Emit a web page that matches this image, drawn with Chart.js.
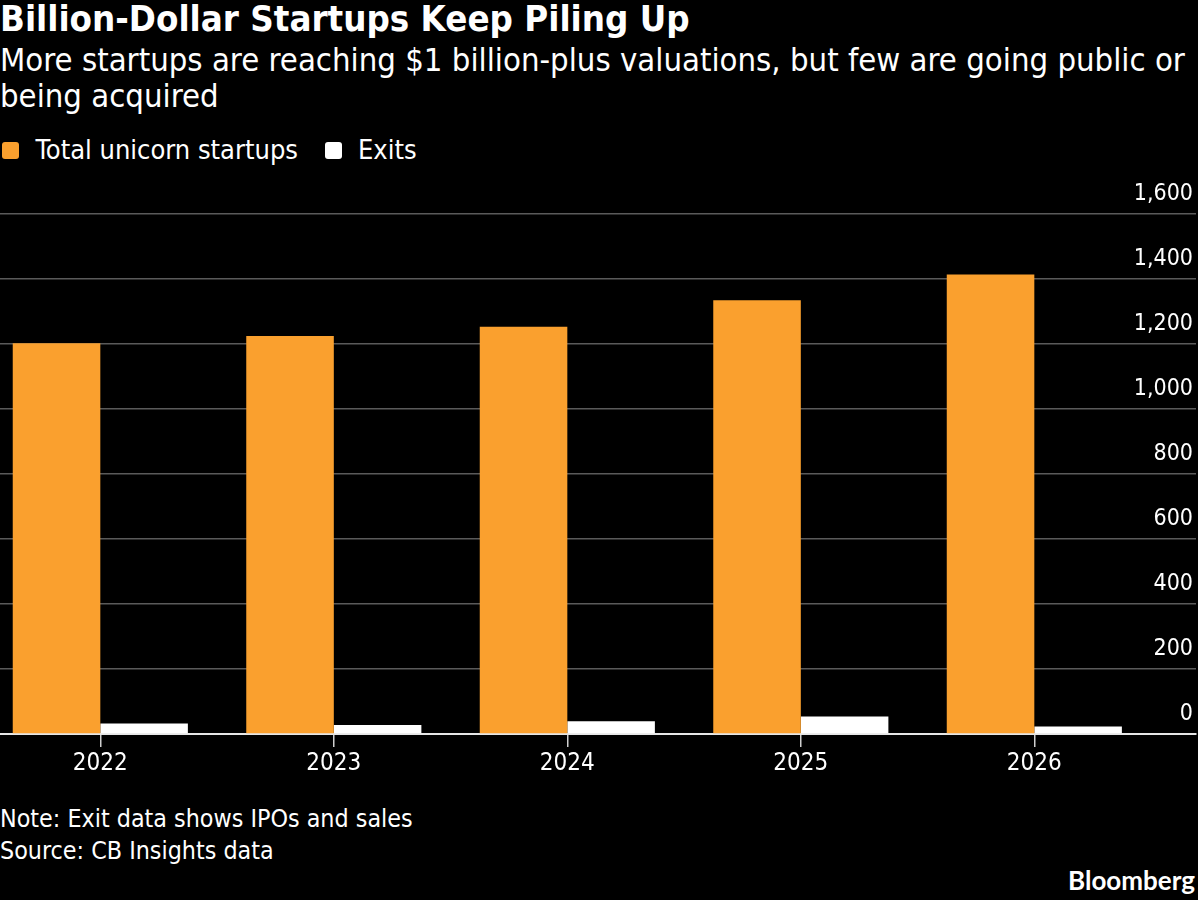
<!DOCTYPE html>
<html>
<head>
<meta charset="utf-8">
<script src="https://cdn.jsdelivr.net/npm/chart.js@4.4.1/dist/chart.umd.min.js"></script>
<style>
  html, body { margin: 0; padding: 0; background: #000; }
  body {
    width: 1198px; height: 900px; position: relative; overflow: hidden;
    color: #fff; font-family: "DejaVu Sans Condensed", "Liberation Sans Narrow", sans-serif;
  }
  .title { position: absolute; left: 0; top: 1px; font-size: 36.3px; font-weight: bold; line-height: 36px; white-space: nowrap; }
  .subtitle { position: absolute; left: 0; top: 43px; font-size: 32.6px; line-height: 35.5px; white-space: nowrap; }
  .swatch { position: absolute; top: 142px; width: 17px; height: 17px; border-radius: 3px; }
  .legend-text { position: absolute; top: 136px; font-size: 27px; line-height: 28px; white-space: nowrap; }
  #wrap { position: absolute; left: 0; top: 180px; width: 1198px; height: 610px; }
  .foot { position: absolute; left: 0; top: 803px; font-size: 24.8px; line-height: 32px; }
  .brand { position: absolute; right: 3px; top: 865px; font-family: Lato, "Open Sans", sans-serif; font-weight: bold; font-size: 26px; line-height: 30px; }
</style>
</head>
<body>
<div class="title">Billion-Dollar Startups Keep Piling Up</div>
<div class="subtitle">More startups are reaching $1 billion-plus valuations, but few are going public or<br>being acquired</div>
<div id="legend"></div>
<div id="wrap"><canvas id="chart" width="1198" height="610"></canvas></div>
<div class="foot">Note: Exit data shows IPOs and sales<br>Source: CB Insights data</div>
<div class="brand">Bloomberg</div>

<script>
// values
const years = [2022, 2023, 2024, 2025, 2026];
const unicorns = [1202, 1225, 1253, 1335, 1414];
const exits = [32, 28, 39, 54, 23];
const yTicks = [0, 200, 400, 600, 800, 1000, 1200, 1400, 1600];
const seriesNames = ['Total unicorn startups', 'Exits'];
const seriesColors = ['#FAA02E', '#FFFFFF'];

// legend, built from the series names and colours
const legend = document.getElementById('legend');
const legendX = [[2, 35.6], [324.5, 358]];
seriesNames.forEach((name, i) => {
    legend.insertAdjacentHTML('beforeend', `
        <div class="swatch" style="left:${legendX[i][0]}px;background:${seriesColors[i]}"></div>
        <div class="legend-text" style="left:${legendX[i][1]}px">${name}</div>
    `);
});

Chart.defaults.font.family = '"DejaVu Sans Condensed", "Liberation Sans Narrow", sans-serif';
Chart.defaults.color = '#fff';

const ctx = document.getElementById('chart').getContext('2d');
const chart = new Chart(ctx, {
    type: 'bar',
    data: {
        datasets: [
            {
                label: seriesNames[0],
                data: years.map((y, i) => ({ x: y, y: unicorns[i] })),
                backgroundColor: seriesColors[0]
            },
            {
                label: seriesNames[1],
                data: years.map((y, i) => ({ x: y, y: exits[i] })),
                backgroundColor: seriesColors[1]
            }
        ]
    },
    options: {
        responsive: false,
        animation: false,
        layout: { padding: { top: 34, right: 0, left: 0, bottom: 0 } },
        datasets: { bar: { categoryPercentage: 0.75, barPercentage: 1.0 } },
        plugins: {
            legend: { display: false },
            tooltip: { enabled: false }
        },
        scales: {
            x: {
                type: 'linear',
                offset: false,
                min: 2021.5704,
                max: 2026.6924,
                afterBuildTicks: (s) => { s.ticks = years.map(v => ({ value: v })); },
                afterFit: (s) => { s.height = 56; },
                grid: {
                    offset: false,
                    drawOnChartArea: false,
                    drawTicks: true,
                    tickLength: 13,
                    color: '#cfcfcf',
                    lineWidth: 1.5
                },
                border: { display: true, color: '#e6e6e6', width: 2 },
                ticks: {
                    color: '#fff',
                    font: { size: 24 },
                    padding: 2,
                    autoSkip: false,
                    maxRotation: 0,
                    callback: (v) => String(v)
                }
            },
            y: {
                position: 'right',
                min: 0,
                max: 1600,
                afterBuildTicks: (s) => { s.ticks = yTicks.map(v => ({ value: v })); },
                afterFit: (s) => { s.width = 2; },
                grid: { color: '#5a5a5a', lineWidth: 1.5, drawTicks: false },
                border: { display: false },
                ticks: {
                    mirror: true,
                    padding: -3,
                    labelOffset: -20,
                    color: '#fff',
                    font: { size: 23 },
                    callback: (v) => v.toLocaleString('en-US')
                }
            }
        }
    }
});
</script>
</body>
</html>
